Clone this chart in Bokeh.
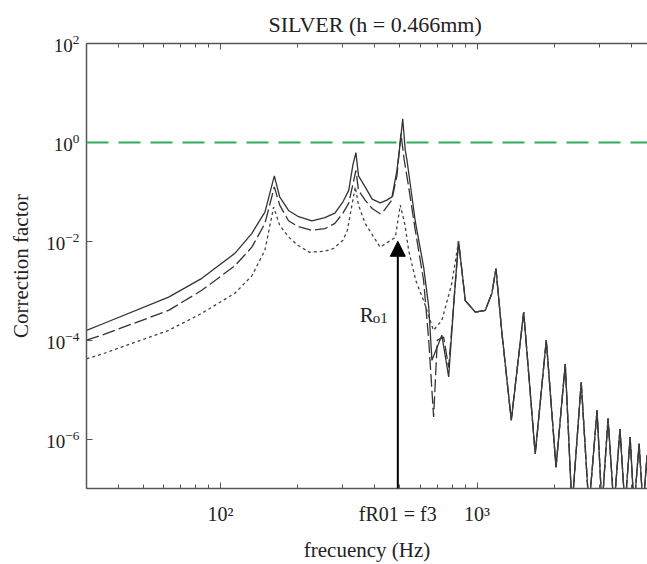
from bokeh.plotting import figure
from bokeh.models import LogAxis, FixedTicker, Span, Arrow, NormalHead, Label, Range1d
from bokeh.embed import file_html
from bokeh.resources import INLINE

# ---- data (Hz, correction factor) ----
freq_solid = [30, 34.4, 62.7, 84.5, 113.7, 132.4, 148.9, 162, 170, 184, 200, 227, 255, 279,
              300, 316, 328, 337, 345, 366, 390, 419, 445, 466, 487, 503, 513, 525, 533,
              574, 619, 648, 667, 729, 775, 813]
corr_solid = [1.58e-4, 2.1e-4, 7.4e-4, 1.78e-3, 5.7e-3, 1.45e-2, 3.9e-2, 0.21, 0.079, 4.2e-2,
              3.2e-2, 2.6e-2, 3.0e-2, 3.7e-2, 6.3e-2, 0.107, 0.35, 0.62, 0.21, 0.126, 7.1e-2,
              6.0e-2, 6.8e-2, 7.9e-2, 0.27, 1.1, 3.0, 0.69, 0.44, 2.6e-2, 3.0e-3, 4.7e-4,
              3.9e-5, 1.26e-4, 1.8e-5, 6.3e-4]

freq_dashed = [30, 34.4, 62.7, 84.5, 113.7, 132.4, 148.9, 162, 170, 184, 200, 227, 255, 279,
               300, 316, 337, 345, 366, 390, 419, 436, 465, 487, 505, 520, 540, 574, 619,
               648, 677, 700, 741, 775, 813]
corr_dashed = [1.0e-4, 1.26e-4, 4.0e-4, 1.02e-3, 3.2e-3, 7.6e-3, 2.3e-2, 0.126, 5.4e-2, 2.6e-2,
               2.0e-2, 1.66e-2, 1.8e-2, 2.3e-2, 3.7e-2, 5.9e-2, 0.27, 0.107, 6.8e-2, 4.6e-2,
               3.6e-2, 4.3e-2, 6.8e-2, 0.21, 1.5, 0.44, 0.135, 1.7e-2, 1.6e-3, 1.0e-4, 2.8e-6,
               1.0e-4, 1.15e-4, 2.8e-5, 6.3e-4]

freq_dotted = [30, 34.4, 62.7, 84.5, 113.7, 132.4, 148.9, 161, 170, 184, 200, 222, 255, 275,
               300, 312, 335, 345, 366, 419, 480, 502, 524, 541, 577, 619, 676, 729, 797]
corr_dotted = [4.2e-5, 5.2e-5, 1.58e-4, 3.5e-4, 8.9e-4, 2.0e-3, 6.6e-3, 4.9e-2, 2.1e-2, 1.23e-2,
               8.3e-3, 6.0e-3, 6.3e-3, 7.1e-3, 1.05e-2, 1.66e-2, 0.126, 5.4e-2, 2.3e-2, 7.6e-3,
               1.2e-2, 5.4e-2, 2.1e-2, 6.6e-3, 1.6e-3, 6.3e-4, 1.58e-4, 2.5e-4, 1.4e-3]

# high-frequency part, where the three curves coincide
freq_tail = [847, 900, 984, 1076, 1143, 1185, 1250, 1360, 1520, 1686, 1862, 2032, 2208, 2345,
             2548, 2731, 2937, 3070, 3242, 3420, 3608, 3776, 3953, 4093, 4285, 4440, 4603, 4690]
corr_tail = [1.0e-2, 6.3e-4, 3.7e-4, 4.0e-4, 8.9e-4, 2.8e-3, 1.4e-4, 2.4e-6, 3.7e-4, 5.0e-7,
             1.0e-4, 2.7e-7, 3.3e-5, 4e-8, 1.4e-5, 4e-8, 3.8e-6, 4e-8, 2.6e-6, 4e-8, 1.6e-6,
             4e-8, 1.1e-6, 4e-8, 8e-7, 4e-8, 4.7e-7, 4e-8]

f_r01 = 491
x_major = [100, f_r01, 1000]
x_labels = {100: "10²", f_r01: "fR01 = f3", 1000: "10³"}
x_minor = [30, 40, 50, 60, 70, 80, 90, 200, 300, 400, 500, 600, 700, 800, 900, 2000, 3000, 4000]
x_top_major = [100, 1000]
y_major = [1e-6, 1e-4, 1e-2, 1, 1e2]
arrow_top = 1e-2
unity = 1.0

FONT = "Liberation Serif"

p = figure(width=647, height=564, x_axis_type="log", y_axis_type="log",
           x_range=Range1d(30, 4620), y_range=Range1d(1e-7, 1e2),
           output_backend="svg", toolbar_location=None,
           min_border_left=86, min_border_right=0, min_border_top=43, min_border_bottom=73)
p.grid.visible = False
p.outline_line_color = None
p.background_fill_color = "white"

p.title.text = "SILVER (h = 0.466mm)"
p.title.text_font = FONT
p.title.text_font_size = "22px"
p.title.text_font_style = "normal"
p.title.text_color = "#222222"
p.title.align = "left"
p.title.offset = 182
p.title.standoff = 14

p.xaxis.ticker = FixedTicker(ticks=x_major, minor_ticks=x_minor)
p.yaxis.ticker = FixedTicker(ticks=y_major, minor_ticks=[])
p.xaxis.major_label_overrides = x_labels

for ax in (p.xaxis[0], p.yaxis[0]):
    ax.axis_line_color = "#555555"
    ax.axis_line_width = 1.5
    ax.major_tick_line_color = "#555555"
    ax.minor_tick_line_color = "#555555"
    ax.major_tick_in = 6
    ax.major_tick_out = 0
    ax.minor_tick_in = 4
    ax.minor_tick_out = 0
    ax.major_label_text_font = FONT
    ax.major_label_text_font_size = "19px"
    ax.major_label_text_color = "#222222"
    ax.axis_label_text_font = FONT
    ax.axis_label_text_font_size = "21px"
    ax.axis_label_text_font_style = "normal"
    ax.axis_label_text_color = "#222222"

p.xaxis.major_label_text_font_size = "20px"
p.xaxis.axis_label = "frecuency (Hz)"
p.yaxis.axis_label = "Correction factor"
p.xaxis.major_label_standoff = 14
p.xaxis.axis_label_standoff = 10
p.yaxis.major_label_standoff = 7
p.yaxis.axis_label_standoff = 10

top = LogAxis(ticker=FixedTicker(ticks=x_top_major, minor_ticks=x_minor),
              axis_line_color="#555555", axis_line_width=1.5,
              major_tick_line_color="#555555", minor_tick_line_color="#555555",
              major_tick_in=6, major_tick_out=0, minor_tick_in=4, minor_tick_out=0,
              major_label_text_font_size="2px", major_label_text_alpha=0.0,
              major_label_standoff=0)
p.add_layout(top, "above")

p.add_layout(Span(location=unity, dimension="width", line_color="#2fae5a",
                  line_dash="22 10", line_width=2))

lc = "#333333"
p.line(freq_solid + freq_tail, corr_solid + corr_tail, line_color=lc, line_width=1.3)
p.line(freq_dashed + freq_tail, corr_dashed + corr_tail, line_color=lc, line_width=1.3,
       line_dash="13 4")
p.line(freq_dotted + freq_tail, corr_dotted + corr_tail, line_color="#444444", line_width=1.3,
       line_dash="3 3")

p.add_layout(Arrow(end=NormalHead(size=15, fill_color="black", line_color="black"),
                   x_start=f_r01, y_start=1e-7, x_end=f_r01, y_end=arrow_top,
                   line_color="black", line_width=2))

p.add_layout(Label(x=349, y=3.3e-4, text="R", text_font=FONT, text_font_size="21px",
                   text_color="#222222", text_baseline="alphabetic"))
p.add_layout(Label(x=392, y=2.8e-4, text="o1", text_font=FONT, text_font_size="15px",
                   text_color="#222222", text_baseline="alphabetic"))

open("out.html", "w").write(file_html(p, INLINE))
